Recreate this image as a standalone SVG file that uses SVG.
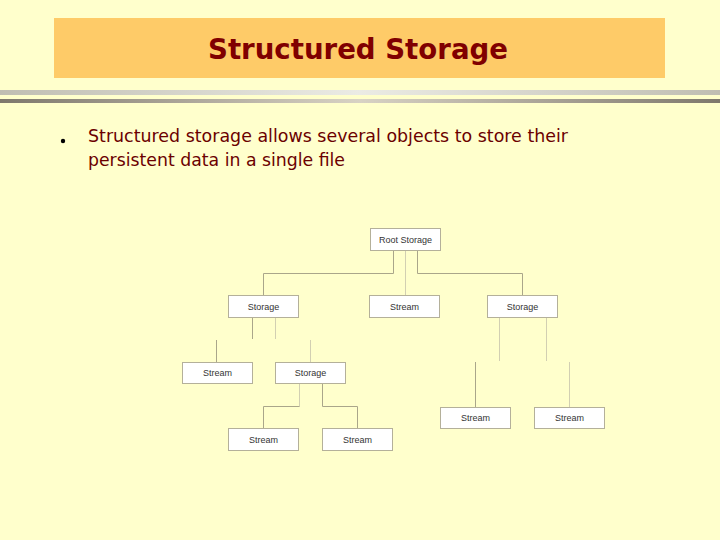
<svg xmlns="http://www.w3.org/2000/svg" width="720" height="540" viewBox="0 0 720 540">
<defs>
<linearGradient id="rule1" x1="0" y1="0" x2="1" y2="0">
<stop offset="0" stop-color="#c0beb2"/><stop offset="0.5" stop-color="#ebebe4"/><stop offset="1" stop-color="#c0beb2"/>
</linearGradient>
<linearGradient id="rule2" x1="0" y1="0" x2="1" y2="0">
<stop offset="0" stop-color="#7e786c"/><stop offset="0.5" stop-color="#d8d2c4"/><stop offset="1" stop-color="#7e786c"/>
</linearGradient>
</defs>
<style>
.box{fill:#ffffff;stroke:#b4b09a;stroke-width:1}
.lbl{font-family:"Liberation Sans",Arial,sans-serif;font-size:9px;fill:#333333;text-anchor:middle}
.con{fill:none;stroke:#aaa68a;stroke-width:1}
.con2{fill:none;stroke:#d2cfb2;stroke-width:1}
.body{font-family:"DejaVu Sans","Liberation Sans",sans-serif;font-size:18px;fill:#6b0000}
</style>
<rect x="0" y="0" width="720" height="540" fill="#ffffcc"/>
<rect x="54" y="18" width="611" height="60" fill="#fecb68"/>
<text x="358" y="59" font-family="DejaVu Sans,Liberation Sans,sans-serif" font-weight="bold" font-size="29" fill="#800000" text-anchor="middle" textLength="300" lengthAdjust="spacingAndGlyphs">Structured Storage</text>
<rect x="0" y="90" width="720" height="5" fill="url(#rule1)"/>
<rect x="0" y="99" width="720" height="4" fill="url(#rule2)"/>
<circle cx="63" cy="141" r="2.2" fill="#000000"/>
<text class="body" x="88" y="142" textLength="480" lengthAdjust="spacingAndGlyphs">Structured storage allows several objects to store their</text>
<text class="body" x="88" y="166" textLength="257" lengthAdjust="spacingAndGlyphs">persistent data in a single file</text>
<g id="connectors">
<path class="con" d="M393.5 251 V273.5 H263.5 V295"/>
<path class="con2" d="M405.5 251 V295"/>
<path class="con" d="M417.5 251 V273.5 H522.5 V295"/>
<path class="con" d="M252.5 317 V339"/>
<path class="con2" d="M275.5 317 V339"/>
<path class="con" d="M216.5 340 V362"/>
<path class="con2" d="M310.5 340 V362"/>
<path class="con2" d="M299.5 383 V406.5"/>
<path class="con" d="M299.5 406.5 H263.5 V428"/>
<path class="con" d="M322.5 383 V406.5 H357.5 V428"/>
<path class="con2" d="M499.5 317 V361"/>
<path class="con2" d="M546.5 317 V361"/>
<path class="con" d="M475.5 362 V407"/>
<path class="con2" d="M569.5 362 V407"/>
</g>
<g id="root"><rect class="box" x="370.5" y="228.5" width="70" height="22"/><text class="lbl" x="405.5" y="243">Root Storage</text></g>
<g id="storage1"><rect class="box" x="228.5" y="295.5" width="70" height="22"/><text class="lbl" x="263.5" y="309.5">Storage</text></g>
<g id="stream1"><rect class="box" x="369.5" y="295.5" width="70" height="22"/><text class="lbl" x="404.5" y="309.5">Stream</text></g>
<g id="storage2"><rect class="box" x="487.5" y="295.5" width="70" height="22"/><text class="lbl" x="522.5" y="309.5">Storage</text></g>
<g id="stream2"><rect class="box" x="182.5" y="362.5" width="70" height="21"/><text class="lbl" x="217.5" y="376">Stream</text></g>
<g id="storage3"><rect class="box" x="275.5" y="362.5" width="70" height="21"/><text class="lbl" x="310.5" y="376">Storage</text></g>
<g id="stream3"><rect class="box" x="228.5" y="428.5" width="70" height="22"/><text class="lbl" x="263.5" y="442.5">Stream</text></g>
<g id="stream4"><rect class="box" x="322.5" y="428.5" width="70" height="22"/><text class="lbl" x="357.5" y="442.5">Stream</text></g>
<g id="stream5"><rect class="box" x="440.5" y="407.5" width="70" height="21"/><text class="lbl" x="475.5" y="421">Stream</text></g>
<g id="stream6"><rect class="box" x="534.5" y="407.5" width="70" height="21"/><text class="lbl" x="569.5" y="421">Stream</text></g>
</svg>
